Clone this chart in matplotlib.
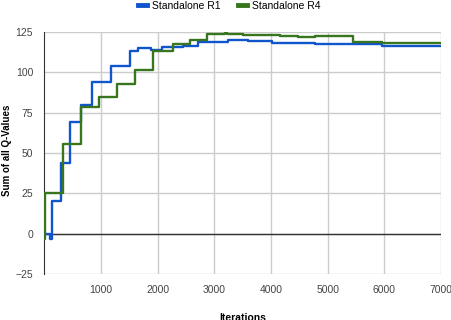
import numpy as np
import matplotlib
matplotlib.use('Agg')
import matplotlib.pyplot as plt

## Sum of all Q-values vs iterations for the two standalone runs
## Values (step-like curves)

r1_iter = [0, 100, 130, 300, 445, 655, 835, 1170, 1510, 1650, 1880, 2075, 2450, 2710, 3250, 3590, 4010, 4770, 5620, 5950, 7000]
r1_sum = [0, -3, 20, 44, 69, 79.5, 94, 104, 113.5, 115, 114, 115.5, 116.5, 119, 120, 119.3, 118.3, 117.5, 117.8, 116.6, 116.6]

r4_iter = [0, 20, 330, 640, 970, 1280, 1600, 1920, 2265, 2570, 2865, 3180, 3230, 3500, 3850, 4160, 4480, 4770, 5450, 5950, 7000]
r4_sum = [-3, 25.5, 55.5, 78.5, 85, 92.5, 101.7, 113.5, 117.5, 120, 123.5, 125, 123.5, 123.3, 123, 122.5, 122, 122.5, 119, 118.5, 118]

x_ticks = [1000, 2000, 3000, 4000, 5000, 6000, 7000]
y_ticks = [-25, 0, 25, 50, 75, 100, 125]

plt.rcParams['font.family'] = ['Liberation Sans', 'DejaVu Sans']

fig = plt.figure(figsize=(4.52, 3.2), dpi=100)
ax = fig.add_axes([0.098, 0.14375, 0.8777, 0.756])

ax.step(r1_iter, r1_sum, where='post', color='#1155cc', linewidth=1.7, label='Standalone R1', zorder=3)
ax.step(r4_iter, r4_sum, where='post', color='#38761d', linewidth=1.7, label='Standalone R4', zorder=3)

ax.axhline(0, color='#333333', linewidth=1, zorder=2)     # zero baseline

ax.set_xlim(0, 7000)
ax.set_ylim(-25, 125)
ax.set_xticks(x_ticks)
ax.set_yticks(y_ticks)
ax.grid(True, color='#cccccc', linewidth=1)
ax.set_axisbelow(True)
ax.tick_params(length=0, labelsize=7.5, colors='#444444', pad=8)

for side in ['top', 'right', 'bottom']:
    ax.spines[side].set_visible(False)
ax.spines['left'].set_color('#333333')

# Axis titles placed by hand (the x title is half cut at the bottom edge in the original)
fig.text(242.5 / 452, 1 - 318 / 320, 'Iterations', fontsize=7.5, fontweight='bold', ha='center', va='center')
fig.text(7 / 452, 1 - 150 / 320, 'Sum of all Q-Values', fontsize=7, fontweight='bold', ha='center', va='center', rotation=90)

leg = ax.legend(loc='center', bbox_to_anchor=(0.466, 1 + 26 / 242), ncol=2, frameon=False,
                fontsize=7.5, handlelength=0.9, handletextpad=0.5, columnspacing=1.6, borderaxespad=0)
for line in leg.get_lines():
    line.set_linewidth(3.5)

fig.savefig('out.png', dpi=100)
